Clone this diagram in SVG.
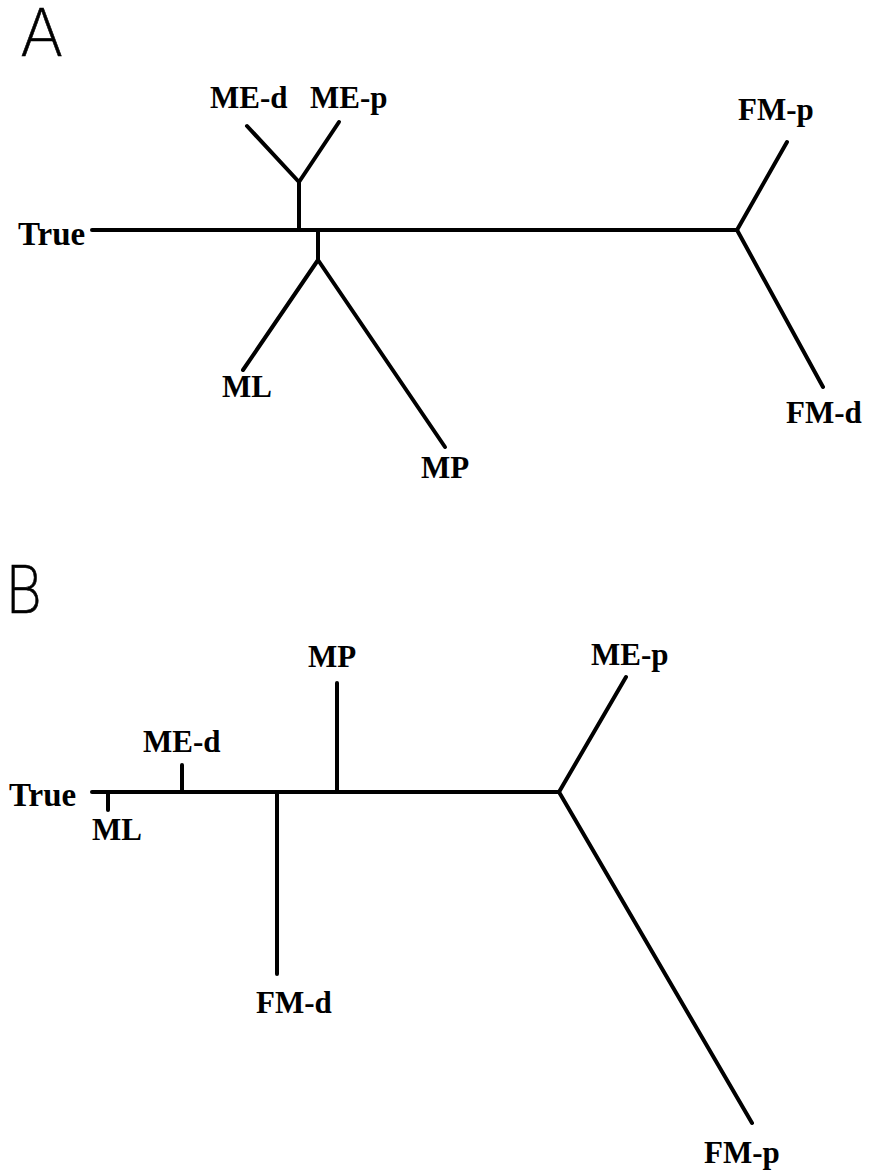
<svg xmlns="http://www.w3.org/2000/svg" width="871" height="1171" viewBox="0 0 871 1171">
<style>
.lbl{font-family:"Liberation Serif","Times New Roman",serif;font-weight:bold;font-size:31px;fill:#000}
.pan{font-family:Inter,"DejaVu Sans",sans-serif;font-weight:200;font-size:66px;fill:#000;stroke:#000;stroke-width:0.6}
.br{stroke:#000;stroke-width:4;stroke-linecap:round;fill:none}
</style>
<rect width="871" height="1171" fill="#fff"/>
<g id="panel-labels">
<text class="pan" x="20" y="56">A</text>
<text class="pan" transform="translate(6,613) scale(0.85,1)">B</text>
</g>
<g id="connectors">
<!-- Panel A -->
<line class="br" x1="92" y1="230" x2="737" y2="230"/>
<line class="br" x1="299" y1="230" x2="299" y2="182"/>
<line class="br" x1="299" y1="182" x2="247" y2="126"/>
<line class="br" x1="299" y1="182" x2="339" y2="122"/>
<line class="br" x1="318" y1="231" x2="318" y2="260"/>
<line class="br" x1="318" y1="260" x2="243" y2="370"/>
<line class="br" x1="318" y1="260" x2="445" y2="447"/>
<line class="br" x1="737" y1="230" x2="787" y2="142"/>
<line class="br" x1="737" y1="230" x2="823" y2="387"/>
<!-- Panel B -->
<line class="br" x1="92" y1="792" x2="559" y2="792"/>
<line class="br" x1="108" y1="792" x2="108" y2="810"/>
<line class="br" x1="182" y1="792" x2="182" y2="765"/>
<line class="br" x1="337" y1="792" x2="337" y2="683"/>
<line class="br" x1="277" y1="792" x2="277" y2="974"/>
<line class="br" x1="559" y1="792" x2="626" y2="677"/>
<line class="br" x1="559" y1="792" x2="752" y2="1123"/>
</g>
<g id="node-A-True"><text class="lbl" x="18" y="245" style="font-size:33px">True</text></g>
<g id="node-A-MEd"><text class="lbl" x="210" y="108">ME-d</text></g>
<g id="node-A-MEp"><text class="lbl" x="310" y="108">ME-p</text></g>
<g id="node-A-ML"><text class="lbl" x="222" y="397">ML</text></g>
<g id="node-A-MP"><text class="lbl" x="421" y="478">MP</text></g>
<g id="node-A-FMp"><text class="lbl" x="738" y="120">FM-p</text></g>
<g id="node-A-FMd"><text class="lbl" x="786" y="423">FM-d</text></g>
<g id="node-B-True"><text class="lbl" x="9" y="806" style="font-size:33px">True</text></g>
<g id="node-B-ML"><text class="lbl" x="92" y="840">ML</text></g>
<g id="node-B-MEd"><text class="lbl" x="143" y="752">ME-d</text></g>
<g id="node-B-MP"><text class="lbl" x="308" y="667">MP</text></g>
<g id="node-B-FMd"><text class="lbl" x="256" y="1013">FM-d</text></g>
<g id="node-B-MEp"><text class="lbl" x="591" y="665">ME-p</text></g>
<g id="node-B-FMp"><text class="lbl" x="704" y="1163">FM-p</text></g>
</svg>
